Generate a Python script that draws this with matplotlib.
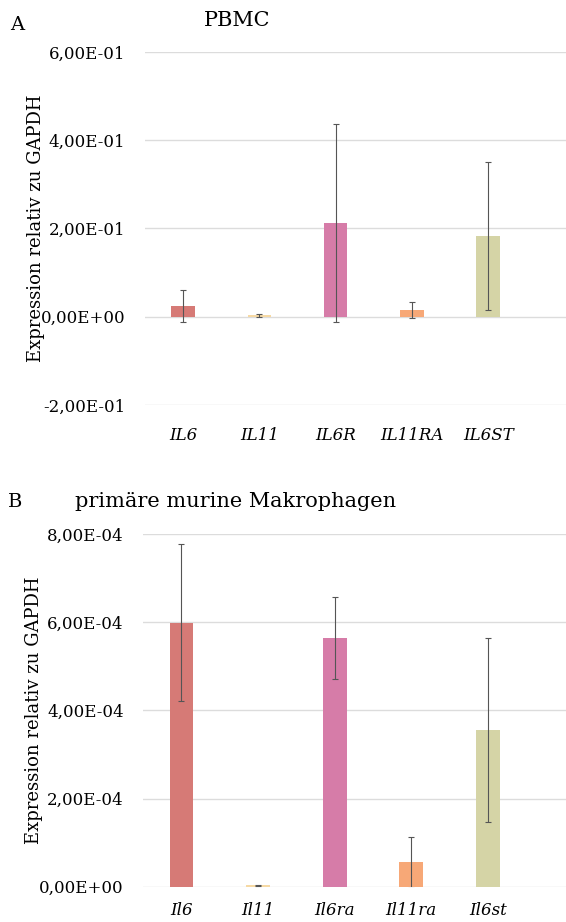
import matplotlib.pyplot as plt
import numpy as np
from matplotlib.ticker import FuncFormatter

plt.rcParams['font.family'] = ['DejaVu Serif']

# panel A: PBMC
genes_a = ["IL6", "IL11", "IL6R", "IL11RA", "IL6ST"]
expr_a = [0.025, 0.003, 0.212, 0.016, 0.183]
err_a = [0.036, 0.004, 0.224, 0.018, 0.168]

# panel B: primary murine macrophages
genes_b = ["Il6", "Il11", "Il6ra", "Il11ra", "Il6st"]
expr_b = [5.99e-4, 3e-6, 5.64e-4, 0.55e-4, 3.55e-4]
err_b = [1.78e-4, 1e-6, 0.94e-4, 0.58e-4, 2.09e-4]

colors = ["#D67A76", "#F6D9A4", "#D67CA8", "#F7A877", "#D5D4A6"]


def sci_de(v, pos):
    # excel style: 6,00E-01
    s = "%.2E" % v
    if abs(v) < 1e-12:
        s = "0.00E+00"
    return s.replace(".", ",")


def panel(ax, genes, vals, errs, ylim, ticks, xpad):
    x = np.arange(len(genes))
    ax.bar(x, vals, width=0.31, color=colors, zorder=2)
    ax.errorbar(x, vals, yerr=errs, fmt="none", ecolor="#555555",
                elinewidth=0.8, capsize=2.5, capthick=0.8, zorder=3)
    ax.set_xlim(-0.5, 5.02)
    ax.set_ylim(*ylim)
    ax.set_yticks(ticks)
    ax.yaxis.set_major_formatter(FuncFormatter(sci_de))
    ax.grid(axis="y", color="#DCDCDC", linewidth=1, zorder=0)
    for s in ax.spines.values():
        s.set_visible(False)
    ax.tick_params(length=0, labelsize=12, pad=14)
    ax.tick_params(axis="x", pad=xpad)
    ax.set_xticks(x)
    ax.set_xticklabels(genes, style="italic", fontsize=12)
    ax.set_ylabel("Expression relativ zu GAPDH", fontsize=13)
    ax.yaxis.set_label_coords(-0.238, 0.5)


fig = plt.figure(figsize=(5.66, 9.22), dpi=100)
ax1 = fig.add_axes([0.256, 0.5607, 0.744, 0.383])
panel(ax1, genes_a, expr_a, err_a, (-0.2, 0.6), [-0.2, 0.0, 0.2, 0.4, 0.6], 16)
ax2 = fig.add_axes([0.253, 0.0383, 0.747, 0.3825])
panel(ax2, genes_b, expr_b, err_b, (0, 8e-4), [0, 2e-4, 4e-4, 6e-4, 8e-4], 11)

fig.text(0.018, 0.973, "A", fontsize=14, va="center")
fig.text(0.419, 0.978, "PBMC", fontsize=15, ha="center", va="center")
fig.text(0.014, 0.455, "B", fontsize=14, va="center")
fig.text(0.417, 0.456, "primäre murine Makrophagen", fontsize=15, ha="center", va="center")

fig.savefig("out.png", dpi=100)
